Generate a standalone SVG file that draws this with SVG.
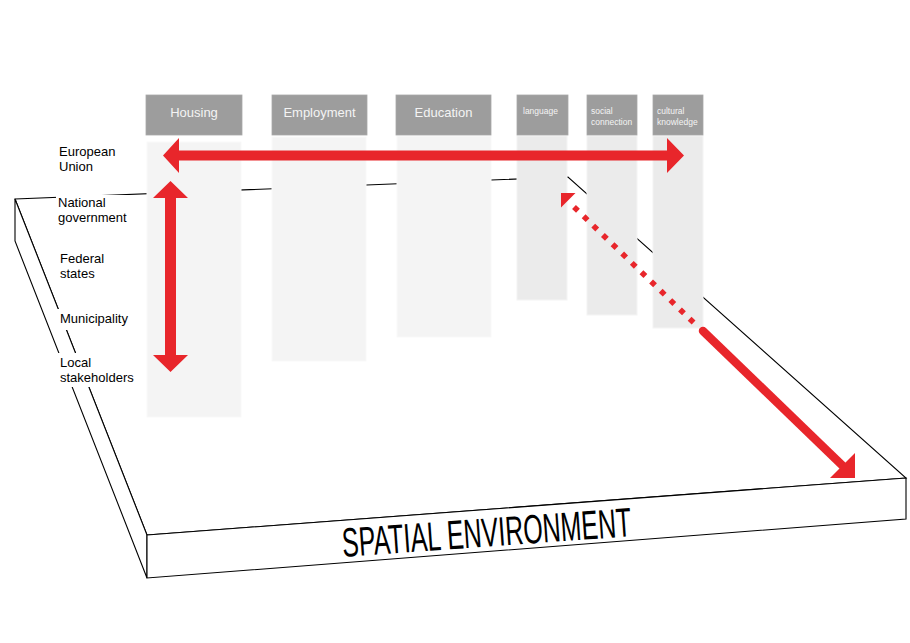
<svg xmlns="http://www.w3.org/2000/svg" width="910" height="643" viewBox="0 0 910 643">
  <style>
    .edge{fill:#ffffff;stroke:#000000;stroke-width:1.1;stroke-linejoin:miter}
    .hdr{fill:#9d9d9d;stroke:#a8a8a8;stroke-width:0.8}
    .body1{fill:#f4f4f4;stroke:#f9f9f9;stroke-width:1}
    .body2{fill:#ebebeb;stroke:#f4f4f4;stroke-width:1}
    .ht{font-family:"Liberation Sans",Arial,sans-serif;font-size:13px;fill:#f4f4f4;text-anchor:middle}
    .hs{font-family:"Liberation Sans",Arial,sans-serif;font-size:8.5px;fill:#f4f4f4}
    .lbl{font-family:"Liberation Sans",Arial,sans-serif;font-size:13px;fill:#000000}
    .bg{fill:#ffffff}
    .red{fill:#e8262b}
  </style>

  <g id="platform">
    <polygon class="edge" points="15,199 568,177 906,478 147,535"/>
    <polygon class="edge" points="15,199 147,535 147,578 15,241"/>
    <polygon class="edge" points="147,535 906,478 906,519 147,578"/>
    <text transform="translate(343,557) rotate(-4.1)" x="0" y="0" font-family="'Liberation Sans',Arial,sans-serif" font-size="41" textLength="290" lengthAdjust="spacingAndGlyphs" fill="#000">SPATIAL ENVIRONMENT</text>
  </g>

  <g id="col-housing">
    <rect class="body1" x="147" y="142" width="94" height="275"/>
    <rect class="hdr" x="146" y="95" width="96" height="40"/>
    <text class="ht" x="194" y="117">Housing</text>
  </g>
  <g id="col-employment">
    <rect class="body1" x="272" y="137" width="94" height="224"/>
    <rect class="hdr" x="272" y="95" width="95" height="40"/>
    <text class="ht" x="319.5" y="117">Employment</text>
  </g>
  <g id="col-education">
    <rect class="body1" x="397" y="136" width="94" height="201"/>
    <rect class="hdr" x="396" y="95" width="95" height="40"/>
    <text class="ht" x="443.5" y="117">Education</text>
  </g>
  <g id="col-language">
    <rect class="body2" x="517" y="136" width="50" height="164"/>
    <rect class="hdr" x="517" y="95" width="51" height="40"/>
    <text class="hs" x="523" y="114">language</text>
  </g>
  <g id="col-social">
    <rect class="body2" x="587" y="136" width="50" height="179"/>
    <rect class="hdr" x="587" y="95" width="50" height="40"/>
    <text class="hs" x="591" y="114">social</text>
    <text class="hs" x="591" y="125">connection</text>
  </g>
  <g id="col-cultural">
    <rect class="body2" x="653" y="136" width="50" height="192"/>
    <rect class="hdr" x="653" y="95" width="50" height="40"/>
    <text class="hs" x="657" y="114">cultural</text>
    <text class="hs" x="657" y="125">knowledge</text>
  </g>

  <g id="lbl-eu">
    <text class="lbl" x="59" y="156">European</text>
    <text class="lbl" x="59" y="171">Union</text>
  </g>
  <g id="lbl-national">
    <rect class="bg" x="56" y="195" width="75" height="31"/>
    <text class="lbl" x="58" y="207">National</text>
    <text class="lbl" x="58" y="222">government</text>
  </g>
  <g id="lbl-federal">
    <text class="lbl" x="60" y="263">Federal</text>
    <text class="lbl" x="60" y="278">states</text>
  </g>
  <g id="lbl-municipality">
    <rect class="bg" x="57" y="309" width="72" height="21"/>
    <text class="lbl" x="60" y="323">Municipality</text>
  </g>
  <g id="lbl-local">
    <rect class="bg" x="57" y="353" width="79" height="34"/>
    <text class="lbl" x="60" y="367">Local</text>
    <text class="lbl" x="60" y="382">stakeholders</text>
  </g>

  <g id="connectors">
    <polygon class="red" points="163,155.5 179,138 179,150.5 667,150.5 667,138 684,155.5 667,173 667,160.5 179,160.5 179,173"/>
    <polygon class="red" points="170.5,181 188,198 176,198 176,355 188,355 170.5,372 153,355 165,355 165,198 153,198"/>
    <polygon class="red" points="561,193 575.5,193 561,207.5"/>
    <line x1="574" y1="207" x2="694" y2="323" stroke="#e8262b" stroke-width="5.5" stroke-dasharray="5.5 7.9"/>
    <line x1="703" y1="331" x2="846" y2="469" stroke="#e8262b" stroke-width="8.5" stroke-linecap="round"/>
    <polygon class="red" points="855,478 855,453 830,478"/>
  </g>
</svg>
